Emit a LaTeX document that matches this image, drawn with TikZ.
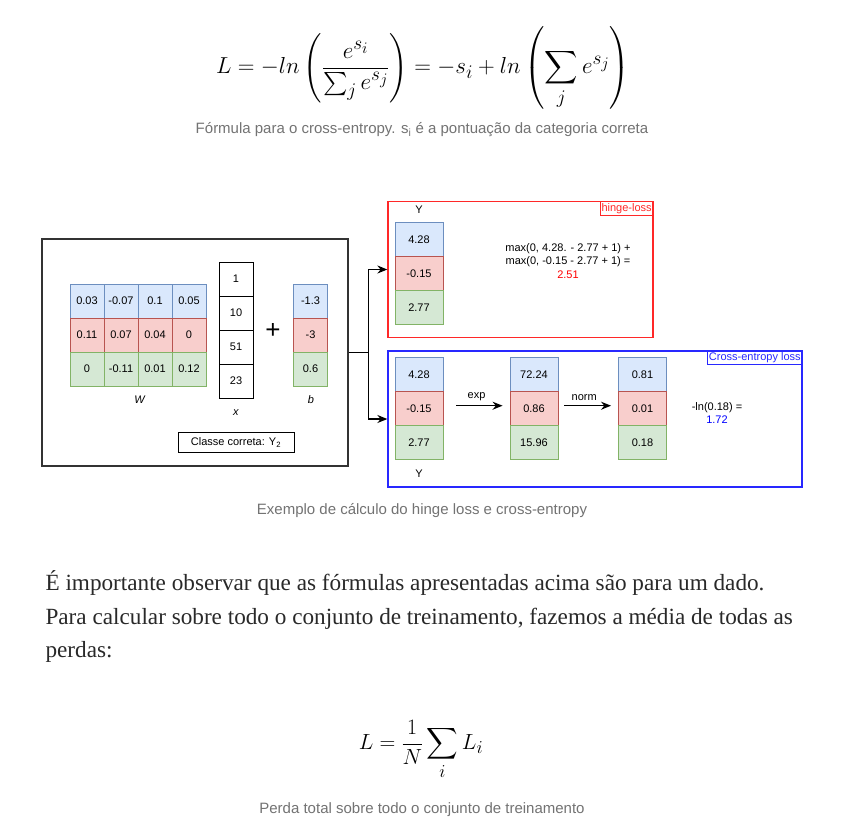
\documentclass[tikz,border=0pt]{standalone}
\usepackage{amsmath}
\usepackage{fontspec}
\setmainfont{Liberation Serif}
\setsansfont{Liberation Sans}
\usetikzlibrary{arrows.meta,calc}
\definecolor{lblue}{HTML}{DAE8FC}
\definecolor{dblue}{HTML}{6C8EBF}
\definecolor{lred}{HTML}{F8CECC}
\definecolor{dred}{HTML}{B85450}
\definecolor{lgreen}{HTML}{D5E8D4}
\definecolor{dgreen}{HTML}{82B366}
\definecolor{hingered}{RGB}{255,40,40}
\definecolor{ceblue}{RGB}{40,40,255}
\definecolor{capgrey}{HTML}{737373}
\definecolor{bodyink}{HTML}{292929}
\newcommand{\dfont}{\sffamily\fontsize{11}{13.7}\selectfont}
\newcommand{\capfont}{\sffamily\fontsize{15}{18}\selectfont}
\newcommand{\eqfont}{\fontsize{24.88}{30}\selectfont}

\begin{document}
\begin{tikzpicture}[x=1pt,y=-1pt,font=\dfont,
  cell/.style={line width=0.9pt,minimum width=34pt,minimum height=34pt,inner sep=0pt},
  c0/.style={cell,fill=lblue,draw=dblue},
  c1/.style={cell,fill=lred,draw=dred},
  c2/.style={cell,fill=lgreen,draw=dgreen},
  cx/.style={cell,fill=white,draw=black},
  wide/.style={minimum width=48pt},
  boxframe/.style={line width=1.3pt,inner sep=0pt},
  boxtag/.style={draw,line width=1pt,anchor=north east,inner sep=1.5pt,minimum height=14pt},
  arr/.style={-{Stealth[length=10pt,width=8pt]},line width=1.3pt},
  captxt/.style={font=\capfont,text=capgrey},
  bodytxt/.style={anchor=base west,text=bodyink,font=\rmfamily\fontsize{23.2}{28}\selectfont}]
  \useasboundingbox[fill=white] (0,0) rectangle (848,822);

  \node (eq1) at (423,68) {\scalebox{0.93}{\eqfont$\displaystyle L=-ln\left(\frac{e^{s_i}}{\sum_j e^{s_j}}\right)=-s_i+ln\left(\sum_j e^{s_j}\right)$}};
  \node[captxt] (cap1) at (422,130) {Fórmula para o cross-entropy. s\textsubscript{i} é a pontuação da categoria correta};

  \node[boxframe,draw=black!80,minimum width=306pt,minimum height=227pt] (input) at (195,352.5) {};
  \foreach \r/\row in {0/{0.03,-0.07,0.1,0.05},1/{0.11,0.07,0.04,0},2/{0,-0.11,0.01,0.12}} {
    \foreach \v [count=\c] in \row
      \node[c\r] (w\r\c) at (53+34*\c,301+34*\r) {\v};
  }
  \foreach \v [count=\i from 0] in {1,10,51,23}
    \node[cx] (x\i) at (236,279+34*\i) {\v};
  \foreach \v [count=\i from 0] in {-1.3,-3,0.6}
    \node[c\i] (b\i) at (310.5,301+34*\i) {\v};
  \node (wlbl) at (140,400) {\textit{W}};
  \node (xlbl) at (236,413) {\textit{x}};
  \node (blbl) at (311,400) {\textit{b}};
  \node (plus) at (273,331) {\fontsize{26}{26}\selectfont +};
  \node[draw,line width=1pt,minimum width=116pt,minimum height=20.5pt,inner sep=0pt] (classe) at (236,442.5) {Classe correta: Y\textsubscript{2}};

  \node[boxframe,draw=hingered,minimum width=265pt,minimum height=136pt] (hinge) at (520.5,269.5) {};
  \node[boxtag,draw=hingered,text=hingered] (hingetag) at (hinge.north east) {hinge-loss};
  \node (hylbl) at (419,210) {Y};
  \foreach \v [count=\i from 0] in {4.28,-0.15,2.77}
    \node[c\i,wide] (hy\i) at (419,239.3+34*\i) {\v};
  \node[align=center] (hcalc) at (568,261) {max(0, 4.28. - 2.77 + 1) +\\max(0, -0.15 - 2.77 + 1) =\\\textcolor{red}{2.51}};

  \node[boxframe,draw=ceblue,minimum width=414pt,minimum height=136pt] (ce) at (595,419) {};
  \node[boxtag,draw=ceblue,text=ceblue,minimum height=13pt] (cetag) at (ce.north east) {Cross-entropy loss};
  \foreach \k/\xx/\vals in {a/419/{4.28,-0.15,2.77},b/534/{72.24,0.86,15.96},c/642.5/{0.81,0.01,0.18}} {
    \foreach \v [count=\i from 0] in \vals
      \node[c\i,wide] (ce\k\i) at (\xx,374.7+34*\i) {\v};
  }
  \node (cylbl) at (419,474) {Y};
  \draw[arr,shorten <=13pt,shorten >=7pt] ([yshift=3pt]cea1.east) -- ([yshift=3pt]ceb1.west) node[midway,above=1pt] {exp};
  \draw[arr,shorten <=6pt,shorten >=7pt] ([yshift=3pt]ceb1.east) -- ([yshift=3pt]cec1.west) node[midway,above=1pt,xshift=-4pt] {norm};
  \node[align=center] (cecalc) at (717,413) {-ln(0.18) =\\\textcolor{blue}{1.72}};

  \draw[arr] (input.east) -- ++(20,0) |- (hinge.west);
  \draw[arr] (input.east) -- ++(20,0) |- (ce.west);

  \node[captxt] (cap2) at (422,511) {Exemplo de cálculo do hinge loss e cross-entropy};

  \node[bodytxt] (line1) at (42,590) {É importante observar que as fórmulas apresentadas acima são para um dado.};
  \node[bodytxt] (line2) at (42,624) {Para calcular sobre todo o conjunto de treinamento, fazemos a média de todas as};
  \node[bodytxt] (line3) at (42,657.5) {perdas:};

  \node (eq2) at (421,750) {\scalebox{0.88}{\eqfont$\displaystyle L=\frac{1}{N}\sum_i L_i$}};
  \node[captxt] (cap3) at (422,810) {Perda total sobre todo o conjunto de treinamento};
\end{tikzpicture}
\end{document}
